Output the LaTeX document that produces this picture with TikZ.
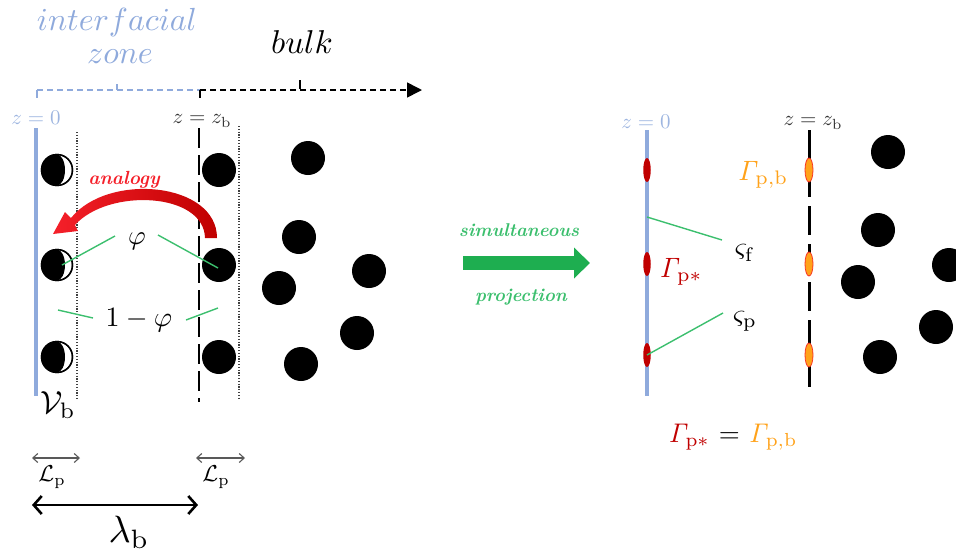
\documentclass[tikz,border=0pt]{standalone}
\usetikzlibrary{arrows.meta,shapes.geometric}
\definecolor{lblue}{HTML}{8FAADC}
\definecolor{zblue}{HTML}{9DB5E0}
\definecolor{grn}{HTML}{3CBF6E}
\definecolor{grnarrow}{HTML}{1EAE50}
\definecolor{dred}{HTML}{C00000}
\definecolor{orng}{HTML}{FFA21A}
\definecolor{redarr}{HTML}{F5202A}
\begin{document}
\begin{tikzpicture}[x=1pt,y=-1pt,
  fs/.style={font=\fontsize{10}{10}\selectfont, scale=#1/10},
  lbl/.style={inner sep=0pt, anchor=center},
  ball/.style={fill=black, circle, minimum size=34pt, inner sep=0pt},
  hm/.style={draw=black, fill=white, circle, line width=1.4pt, minimum size=31pt, inner sep=0pt},
  dotline/.style={black!75, line width=1.1pt, dash pattern=on 1.2pt off 1.6pt},
  zdash/.style={black, line width=2.8pt, dash pattern=on 20pt off 7pt},
  zdashr/.style={black, line width=3pt, dash pattern=on 29pt off 9pt},
  bline/.style={lblue, line width=3.2pt},
  gline/.style={grn, line width=1.4pt},
  rell/.style={fill=dred},
  oell/.style={fill=orng, draw=redarr!80!orange, line width=0.8pt},
  tick/.style={line width=1.2pt},
  gtxt/.style={grn, font=\fontsize{10}{10}\selectfont\bfseries\itshape, scale=1.85},
]
\useasboundingbox (0,0) rectangle (956,558);

% ---------- top axis ----------
\coordinate (ax0) at (37,90);
\coordinate (axb) at (200,90);
\coordinate (axend) at (422,90);
\draw[lblue, line width=1.3pt, dash pattern=on 6pt off 4pt] (ax0) -- (axb);
\draw[black, line width=1.6pt, dash pattern=on 6pt off 4pt, -{Triangle[length=15pt,width=15pt]}] (axb) -- (axend);
\draw[lblue, tick] (ax0) -- ++(0,8);
\draw[lblue, tick] (117,90) -- ++(0,-6);
\draw[black, tick] (axb) -- ++(0,8);
\draw[black, tick] (300,89) -- ++(0,-9);
\node[lbl, lblue, fs=32] (interf) at (117,22) {$interfacial$};
\node[lbl, lblue, fs=32] (zone) at (120,57) {$zone$};
\node[lbl, fs=33] (bulk) at (302,42) {$bulk$};

% ---------- left panel ----------
\node[lbl, zblue, fs=21] (z0l) at (36,118) {$z=0$};
\node[lbl, black!80, fs=21] (zbl) at (202,121) {$z=z_{\mathrm{b}}$};
\coordinate (bl1) at (36,128); \coordinate (bl2) at (36,396);
\draw[bline] (bl1) -- (bl2);
\coordinate (dl1) at (77,132); \coordinate (dl2) at (77,400);
\draw[dotline] (dl1) -- (dl2);
\coordinate (zl1) at (199,128); \coordinate (zl2) at (199,402);
\draw[zdash] (zl1) -- (zl2);
\coordinate (dr1) at (239,126); \coordinate (dr2) at (239,400);
\draw[dotline] (dr1) -- (dr2);

\foreach \n/\y in {1/170,2/265,3/357} {
  \node[hm] (h\n) at (57,\y) {};
  \fill[black] (h\n.center) ++(0pt,15.5pt) arc[start angle=90,end angle=270,radius=15.5pt]
     arc[start angle=-90,end angle=90,x radius=8pt,y radius=15.5pt];
  \draw[black, line width=1.4pt] (h\n.center) circle[radius=15.5pt];
  \node[ball] (p\n) at (219,\y) {};
}

% bulk particles left
\node[ball] (q1) at (308,158) {};
\node[ball] (q2) at (299,237) {};
\node[ball] (q3) at (369,271) {};
\node[ball] (q4) at (279,288) {};
\node[ball] (q5) at (357,333) {};
\node[ball] (q6) at (301,364) {};

% red analogy arrow
\shade[left color=redarr, right color=dred]
  (217,238) .. controls (217,182) and (108,172) .. (71,218)
  -- (65,212) -- (53,234) -- (78,231) -- (75,225)
  .. controls (108,188) and (204,192) .. (205,238) -- cycle;
\node[lbl, redarr, font=\fontsize{10}{10}\selectfont\bfseries\itshape, scale=1.9] (analogy) at (124,180) {analogy};

% phi labels and green lines
\node[lbl, fs=27] (phi) at (137,241) {$\varphi$};
\node[lbl, fs=28] (omphi) at (139,320) {$1-\varphi$};
\coordinate (g1a) at (115,236);
\coordinate (g2a) at (158,235);
\coordinate (g2b) at (218,268);
\coordinate (g3a) at (58,310);
\coordinate (g3b) at (93,318);
\coordinate (g4a) at (186,320);
\coordinate (g4b) at (218,308);
\draw[gline] ([xshift=5pt]h2.center) -- (g1a);
\draw[gline] (g2a) -- (g2b);
\draw[gline] (g3a) -- (g3b);
\draw[gline] (g4a) -- (g4b);

\node[lbl, fs=32] (Vb) at (58,405) {$\mathcal{V}_{\mathrm{b}}$};

% dimension arrows
\coordinate (lp1a) at (32,458); \coordinate (lp1b) at (80,458);
\coordinate (lp2a) at (196,458); \coordinate (lp2b) at (245,458);
\draw[black!65, line width=1.1pt, {Straight Barb[length=5pt,width=9pt]}-{Straight Barb[length=5pt,width=9pt]}] (lp1a) -- (lp1b);
\draw[black!65, line width=1.1pt, {Straight Barb[length=5pt,width=9pt]}-{Straight Barb[length=5pt,width=9pt]}] (lp2a) -- (lp2b);
\node[lbl, fs=23] (Lp1) at (52,477) {$\mathcal{L}_{\mathrm{p}}$};
\node[lbl, fs=23] (Lp2) at (216,477) {$\mathcal{L}_{\mathrm{p}}$};
\coordinate (lba) at (32,505); \coordinate (lbb) at (198,505);
\draw[black, line width=2.6pt, {Straight Barb[length=8pt,width=18pt]}-{Straight Barb[length=8pt,width=18pt]}] (lba) -- (lbb);
\node[lbl, fs=38] (lamb) at (129,532) {$\lambda_{\mathrm{b}}$};

% ---------- middle arrow ----------
\node[gtxt, lbl] (simul) at (519,230) {simultaneous};
\node[gtxt, lbl] (proj) at (521,297) {projection};
\coordinate (ga1) at (463,263); \coordinate (ga2) at (590,263);
\draw[grnarrow, line width=14pt, -{Triangle[length=16pt,width=30pt]}] (ga1) -- (ga2);

% ---------- right panel ----------
\node[lbl, zblue, fs=21] (z0r) at (646,122) {$z=0$};
\node[lbl, black!80, fs=21] (zbr) at (813,123) {$z=z_{\mathrm{b}}$};
\coordinate (br1) at (647,130); \coordinate (br2) at (647,396);
\draw[bline] (br1) -- (br2);
\coordinate (zr1) at (809,130); \coordinate (zr2) at (809,392);
\draw[zdashr] (zr1) -- (zr2);
\foreach \n/\y in {1/170,2/264,3/355} {
  \node[rell, ellipse, minimum width=7.5pt, minimum height=24pt, inner sep=0pt] (re\n) at (647,\y) {};
  \node[oell, ellipse, minimum width=8pt, minimum height=24pt, inner sep=0pt] (oe\n) at (809,\y) {};
}
\node[ball] (r1) at (888,152) {};
\node[ball] (r2) at (878,230) {};
\node[ball] (r3) at (949,265) {};
\node[ball] (r4) at (858,282) {};
\node[ball] (r5) at (936,327) {};
\node[ball] (r6) at (880,357) {};

\node[lbl, orng, fs=28] (Gpb) at (763,175) {$\mathit{\Gamma}_{\mathrm{p,b}}$};
\node[lbl, dred, fs=28] (Gps) at (681,272) {$\mathit{\Gamma}_{\mathrm{p}*}$};
\node[lbl, fs=28] (sf) at (745,253) {$\varsigma_{\mathrm{f}}$};
\node[lbl, fs=28] (sp) at (745,321) {$\varsigma_{\mathrm{p}}$};
\coordinate (sfa) at (647,217); \coordinate (sfb) at (722,240);
\coordinate (spb) at (723,313);
\draw[gline] (sfa) -- (sfb);
\draw[gline] (re3.center) -- (spb);

\node[lbl, fs=27] (eq) at (733,437) {\textcolor{dred}{$\mathit{\Gamma}_{\mathrm{p}*}$} $=$ \textcolor{orng}{$\mathit{\Gamma}_{\mathrm{p,b}}$}};
\end{tikzpicture}
\end{document}
